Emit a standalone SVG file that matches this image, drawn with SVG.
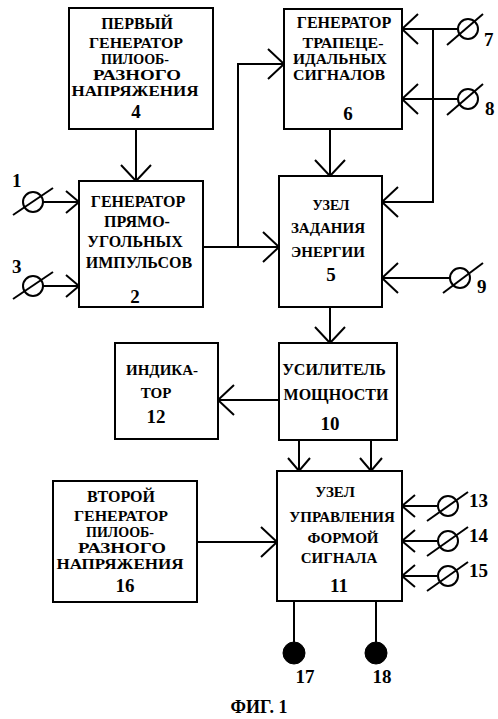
<svg xmlns="http://www.w3.org/2000/svg" width="498" height="719" viewBox="0 0 498 719">
<style>
.box{fill:#fff;stroke:#000;stroke-width:2}
.ln{fill:none;stroke:#000;stroke-width:2}
.t{font-family:"Liberation Serif","Times New Roman",serif;font-weight:bold;font-size:16px;text-anchor:middle;fill:#000}
.c{font-size:14px}
.n{font-family:"Liberation Serif","Times New Roman",serif;font-weight:bold;font-size:19px;fill:#000}
.term{fill:#fff;stroke:#000;stroke-width:2}
.dot{fill:#000;stroke:#000;stroke-width:1}
</style>
<defs>
<marker id="a" markerUnits="userSpaceOnUse" markerWidth="40" markerHeight="40" viewBox="-20 -20 40 40" refX="0" refY="0" orient="auto" overflow="visible">
<path d="M-16,-15 L0,0 L-16,15" fill="none" stroke="#000" stroke-width="2"/>
</marker>
<marker id="s" markerUnits="userSpaceOnUse" markerWidth="40" markerHeight="40" viewBox="-20 -20 40 40" refX="0" refY="0" orient="auto" overflow="visible">
<path d="M-13,-11 L0,0 L-13,11" fill="none" stroke="#000" stroke-width="2"/>
</marker>
</defs>
<rect width="498" height="719" fill="#fff"/>

<g id="connectors">
<path class="ln" d="M136,129 V181" marker-end="url(#a)"/>
<path class="ln" d="M203,247 H279" marker-end="url(#a)"/>
<path class="ln" d="M238,247 V64 H284" marker-end="url(#a)"/>
<path class="ln" d="M330,129 V176" marker-end="url(#a)"/>
<path class="ln" d="M458,29 H402" marker-end="url(#a)"/>
<path class="ln" d="M433,29 V202 H382" marker-end="url(#a)"/>
<path class="ln" d="M458,99 H402" marker-end="url(#a)"/>
<path class="ln" d="M450,278 H382" marker-end="url(#a)"/>
<path class="ln" d="M43,202 H79" marker-end="url(#s)"/>
<path class="ln" d="M43,286 H79" marker-end="url(#s)"/>
<path class="ln" d="M330,307 V343" marker-end="url(#a)"/>
<path class="ln" d="M279,400 H218" marker-end="url(#a)"/>
<path class="ln" d="M299,440 V471" marker-end="url(#s)"/>
<path class="ln" d="M371,440 V471" marker-end="url(#s)"/>
<path class="ln" d="M197,542 H277" marker-end="url(#a)"/>
<path class="ln" d="M437,506 H402" marker-end="url(#s)"/>
<path class="ln" d="M437,541 H402" marker-end="url(#s)"/>
<path class="ln" d="M437,576 H402" marker-end="url(#s)"/>
<path class="ln" d="M294,601 V642"/>
<path class="ln" d="M376,601 V642"/>
</g>

<g id="node4">
<rect class="box" x="69" y="8" width="144" height="121"/>
<text class="t" x="137" y="29">ПЕРВЫЙ</text>
<text class="t c" x="136" y="48" textLength="94" lengthAdjust="spacingAndGlyphs">ГЕНЕРАТОР</text>
<text class="t c" x="135" y="64" textLength="68" lengthAdjust="spacingAndGlyphs">ПИЛООБ-</text>
<text class="t c" x="137" y="80" textLength="88" lengthAdjust="spacingAndGlyphs">РАЗНОГО</text>
<text class="t c" x="135" y="96" textLength="127" lengthAdjust="spacingAndGlyphs">НАПРЯЖЕНИЯ</text>
<text class="t" x="136" y="118" style="font-size:19px">4</text>
</g>

<g id="node6">
<rect class="box" x="284" y="9" width="118" height="120"/>
<text class="t" x="344" y="28">ГЕНЕРАТОР</text>
<text class="t c" x="343" y="48" textLength="81" lengthAdjust="spacingAndGlyphs">ТРАПЕЦЕ-</text>
<text class="t c" x="340" y="64" textLength="94" lengthAdjust="spacingAndGlyphs">ИДАЛЬНЫХ</text>
<text class="t c" x="339" y="80" textLength="92" lengthAdjust="spacingAndGlyphs">СИГНАЛОВ</text>
<text class="t" x="348" y="120" style="font-size:19px">6</text>
</g>

<g id="node2">
<rect class="box" x="79" y="181" width="124" height="126"/>
<text class="t" x="138" y="207">ГЕНЕРАТОР</text>
<text class="t" x="137" y="227">ПРЯМО-</text>
<text class="t" x="135" y="247">УГОЛЬНЫХ</text>
<text class="t" x="139" y="268">ИМПУЛЬСОВ</text>
<text class="t" x="135" y="303" style="font-size:19px">2</text>
</g>

<g id="node5">
<rect class="box" x="279" y="176" width="103" height="131"/>
<text class="t" x="331" y="210" style="font-size:14px">УЗЕЛ</text>
<text class="t" x="328" y="233" style="font-size:15px">ЗАДАНИЯ</text>
<text class="t" x="328" y="257" style="font-size:15px">ЭНЕРГИИ</text>
<text class="t" x="331" y="281" style="font-size:19px">5</text>
</g>

<g id="node12">
<rect class="box" x="115" y="343" width="103" height="96"/>
<text class="t" x="162" y="375" style="font-size:15px">ИНДИКА-</text>
<text class="t" x="156" y="398" style="font-size:15px">ТОР</text>
<text class="t" x="156" y="423" style="font-size:19px">12</text>
</g>

<g id="node10">
<rect class="box" x="279" y="343" width="118" height="97"/>
<text class="t" x="334" y="375">УСИЛИТЕЛЬ</text>
<text class="t" x="336" y="400">МОЩНОСТИ</text>
<text class="t" x="330" y="430" style="font-size:19px">10</text>
</g>

<g id="node16">
<rect class="box" x="53" y="481" width="144" height="121"/>
<text class="t" x="121" y="502">ВТОРОЙ</text>
<text class="t c" x="121" y="521" textLength="94" lengthAdjust="spacingAndGlyphs">ГЕНЕРАТОР</text>
<text class="t c" x="120" y="537" textLength="68" lengthAdjust="spacingAndGlyphs">ПИЛООБ-</text>
<text class="t c" x="122" y="553" textLength="88" lengthAdjust="spacingAndGlyphs">РАЗНОГО</text>
<text class="t c" x="120" y="569" textLength="127" lengthAdjust="spacingAndGlyphs">НАПРЯЖЕНИЯ</text>
<text class="t" x="125" y="592" style="font-size:19px">16</text>
</g>

<g id="node11">
<rect class="box" x="277" y="471" width="125" height="130"/>
<text class="t" x="335" y="497" style="font-size:15px">УЗЕЛ</text>
<text class="t" x="342" y="522" style="font-size:15px">УПРАВЛЕНИЯ</text>
<text class="t" x="343" y="543" style="font-size:15px">ФОРМОЙ</text>
<text class="t" x="339" y="563" style="font-size:15px">СИГНАЛА</text>
<text class="t" x="339" y="592" style="font-size:19px">11</text>
</g>

<g id="t1">
<circle class="term" cx="33" cy="202" r="10"/>
<path class="ln" d="M13,215 L53,188"/>
<text class="n" x="12" y="187">1</text>
</g>
<g id="t3">
<circle class="term" cx="33" cy="286" r="10"/>
<path class="ln" d="M13,299 L53,272"/>
<text class="n" x="12" y="273">3</text>
</g>
<g id="t7">
<circle class="term" cx="468" cy="29" r="10"/>
<path class="ln" d="M447,45 L483,14"/>
<text class="n" x="484" y="46">7</text>
</g>
<g id="t8">
<circle class="term" cx="468" cy="99" r="10"/>
<path class="ln" d="M447,115 L483,84"/>
<text class="n" x="485" y="115">8</text>
</g>
<g id="t9">
<circle class="term" cx="460" cy="278" r="10"/>
<path class="ln" d="M443,293 L483,263"/>
<text class="n" x="477" y="293">9</text>
</g>
<g id="t13">
<circle class="term" cx="448" cy="506" r="10"/>
<path class="ln" d="M427,521 L468,492"/>
<text class="n" x="469" y="507">13</text>
</g>
<g id="t14">
<circle class="term" cx="448" cy="541" r="10"/>
<path class="ln" d="M427,556 L468,527"/>
<text class="n" x="469" y="542">14</text>
</g>
<g id="t15">
<circle class="term" cx="448" cy="576" r="10"/>
<path class="ln" d="M427,591 L468,562"/>
<text class="n" x="469" y="577">15</text>
</g>
<g id="t17">
<circle class="dot" cx="294" cy="653" r="11"/>
<text class="n" x="305" y="683" text-anchor="middle">17</text>
</g>
<g id="t18">
<circle class="dot" cx="376" cy="653" r="11"/>
<text class="n" x="382" y="683" text-anchor="middle">18</text>
</g>

<text class="t" x="259" y="713" style="font-size:18px">ФИГ. 1</text>
</svg>
